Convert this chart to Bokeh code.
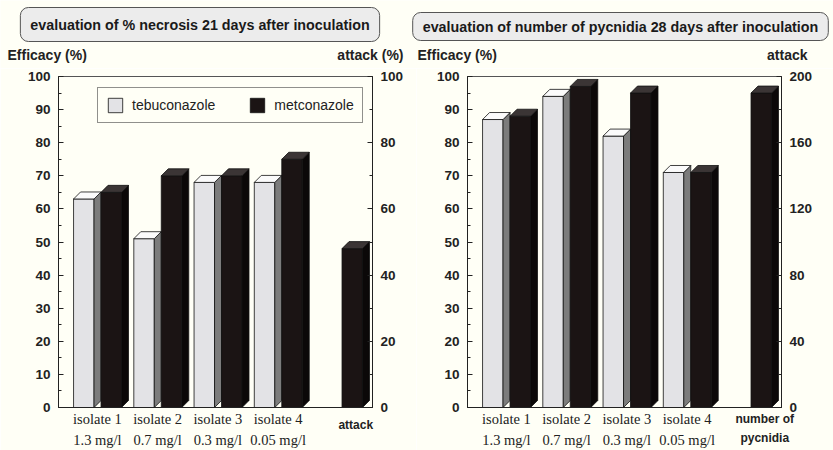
from bokeh.plotting import figure
from bokeh.models import (Range1d, LinearAxis, SingleIntervalTicker, FixedTicker,
                          Label, Legend, LegendItem)
from bokeh.layouts import row, column
from bokeh.embed import file_html
from bokeh.resources import INLINE

# ---------------- data ----------------
isolates = ["isolate 1", "isolate 2", "isolate 3", "isolate 4"]
doses = ["1.3 mg/l", "0.7 mg/l", "0.3 mg/l", "0.05 mg/l"]
series_names = ["tebuconazole", "metconazole"]

necrosis_tebuconazole = [63, 51, 68, 68]
necrosis_metconazole = [65, 70, 70, 75]
necrosis_attack = [48]          # attack (%), right axis 0-100

pycnidia_tebuconazole = [87, 94, 82, 71]
pycnidia_metconazole = [88, 97, 95, 71]
pycnidia_attack = [190]         # number of pycnidia, right axis 0-200

left_title = "evaluation of % necrosis 21 days after inoculation"
right_title = "evaluation of number of pycnidia 28 days after inoculation"

# ---------------- style / geometry ----------------
BG = "#fffff6"
SANS = "Liberation Sans"
SERIF = "Liberation Serif"
X_START, X_END = -0.646, 4.566
FRONT_W = 0.34          # front face width (x units)
DEPTH_X = 0.116         # 3-D depth in x units
DEPTH_PX = 7            # 3-D depth in pixels (vertical)
TEBU_OFF = -0.396
MET_OFF = 0.06
FRAME_W, FRAME_H = 314, 331
HEAD_H = 68

TEBU = dict(front="#e3e3e6", side="#7c7c7c", top="#fbfbfb")
MET = dict(front="#1b1414", side="#0b0808", top="#3b3535")


def bar_faces(x_left, value, dy):
    xr = x_left + FRONT_W
    front = ([x_left, xr, xr, x_left], [0, 0, value, value])
    side = ([xr, xr + DEPTH_X, xr + DEPTH_X, xr], [0, dy, value + dy, value])
    top = ([x_left, x_left + DEPTH_X, xr + DEPTH_X, xr], [value, value + dy, value + dy, value])
    return front, side, top


def draw_series(p, xs_left, values, colors, dy, y_range_name="default"):
    faces = [bar_faces(x, v, dy) for x, v in zip(xs_left, values)]
    rends = {}
    for k, name in enumerate(["front", "side", "top"]):
        rends[name] = p.patches(
            xs=[f[k][0] for f in faces], ys=[f[k][1] for f in faces],
            fill_color=colors[name], line_color="#111111", line_width=0.8,
            y_range_name=y_range_name)
    return rends


def make_panel(tebu, met, extra, extra_label, extra_standoff, right_max,
               right_interval, border_left, border_right, with_legend):
    p = figure(frame_width=FRAME_W, frame_height=FRAME_H,
               min_border_left=border_left, min_border_right=border_right,
               min_border_top=8, min_border_bottom=42,
               x_range=Range1d(X_START, X_END), y_range=Range1d(0, 100),
               output_backend="svg", toolbar_location=None,
               background_fill_color=BG, border_fill_color=BG)
    p.grid.visible = False
    p.outline_line_color = "#555555"
    p.extra_y_ranges = {"right": Range1d(0, right_max)}

    yl = p.yaxis[0]
    yl.ticker = SingleIntervalTicker(interval=10, num_minor_ticks=2)
    yr = LinearAxis(y_range_name="right",
                    ticker=SingleIntervalTicker(interval=right_interval, num_minor_ticks=2))
    p.add_layout(yr, "right")
    for ax in (yl, yr):
        ax.major_tick_in = 5
        ax.major_tick_out = 0
        ax.minor_tick_in = 3
        ax.minor_tick_out = 0
        ax.axis_line_color = "#222222"
        ax.major_tick_line_color = "#222222"
        ax.minor_tick_line_color = "#222222"
        ax.major_label_standoff = 8
        ax.major_label_text_font = SANS
        ax.major_label_text_font_style = "bold"
        ax.major_label_text_font_size = "13.5px"
        ax.major_label_text_color = "#222222"

    # bottom axis with the isolate labels
    xa = p.xaxis[0]
    xa.ticker = FixedTicker(ticks=list(range(len(isolates))))
    xa.major_label_overrides = {i: f"{iso}\n{d}" for i, (iso, d) in enumerate(zip(isolates, doses))}
    xa.major_label_text_font = SERIF
    xa.major_label_text_font_size = "14.5px"
    xa.major_label_text_line_height = 1.35
    xa.major_label_standoff = 3
    xa.axis_line_color = "#222222"

    # second bottom axis holding the label of the extra bar
    extra_x = len(isolates)
    extra_center = extra_x + MET_OFF + (FRONT_W + DEPTH_X) / 2
    xb = LinearAxis(ticker=FixedTicker(ticks=[extra_center]))
    xb.major_label_overrides = {extra_center: extra_label}
    xb.major_label_text_font = SANS
    xb.major_label_text_font_style = "bold"
    xb.major_label_text_font_size = "12px"
    xb.major_label_text_line_height = 1.4
    xb.major_label_standoff = extra_standoff
    xb.axis_line_color = None
    p.add_layout(xb, "below")
    for ax in (xa, xb):
        ax.major_tick_in = 0
        ax.major_tick_out = 0
        ax.minor_tick_in = 0
        ax.minor_tick_out = 0
        ax.major_label_text_color = "#222222"

    dy_left = DEPTH_PX * 100 / FRAME_H
    dy_right = DEPTH_PX * right_max / FRAME_H
    idx = list(range(len(isolates)))
    r_tebu = draw_series(p, [i + TEBU_OFF for i in idx], tebu, TEBU, dy_left)
    r_met = draw_series(p, [i + MET_OFF for i in idx], met, MET, dy_left)
    draw_series(p, [extra_x + MET_OFF], extra, MET, dy_right, y_range_name="right")

    if with_legend:
        legend = Legend(items=[LegendItem(label=series_names[0], renderers=[r_tebu["front"]]),
                               LegendItem(label=series_names[1], renderers=[r_met["front"]])],
                        location=(39, 284), orientation="horizontal",
                        glyph_width=18, glyph_height=18, label_standoff=8, spacing=33,
                        padding=8, margin=0, border_line_color="#222222",
                        background_fill_color=BG, background_fill_alpha=1,
                        label_text_font=SANS, label_text_font_size="14px",
                        label_text_color="#222222")
        p.add_layout(legend)
    return p


# ---------------- header strip (titles and axis titles) ----------------
head = figure(width=833, height=HEAD_H, min_border=0, x_axis_type=None, y_axis_type=None,
              x_range=Range1d(0, 833), y_range=Range1d(0, HEAD_H),
              output_backend="svg", toolbar_location=None,
              background_fill_color=BG, border_fill_color=BG, outline_line_color=None)
head.grid.visible = False


def title_box(text, cx, cy, pad):
    common = dict(x_units="screen", y_units="screen", text=text, text_align="center",
                  text_baseline="middle", text_font=SANS, text_font_style="bold",
                  text_font_size="14.3px", border_radius=8, padding=pad)
    head.add_layout(Label(x=cx + 3, y=cy - 3, text_alpha=0,
                          background_fill_color="#2a2a2a", border_line_color="#2a2a2a",
                          **common))
    head.add_layout(Label(x=cx, y=cy, text_color="#1a1a1a",
                          background_fill_color="#ececec", border_line_color="#555555",
                          **common))


def axis_title(text, x, align):
    head.add_layout(Label(x=x, y=14, x_units="screen", y_units="screen", text=text,
                          text_align=align, text_baseline="middle", text_font=SANS,
                          text_font_style="bold", text_font_size="14px",
                          text_color="#222222"))


title_box(left_title, 199.5, 44, (10, 9))
title_box(right_title, 620, 42, (10, 6))
axis_title("Efficacy (%)", 7, "left")
axis_title("attack (%)", 403, "right")
axis_title("Efficacy (%)", 417, "left")
axis_title("attack", 807, "right")

p1 = make_panel(necrosis_tebuconazole, necrosis_metconazole, necrosis_attack,
                "attack", -34, 100, 20, 58, 44, True)
p2 = make_panel(pycnidia_tebuconazole, pycnidia_metconazole, pycnidia_attack,
                "number of\npycnidia", -40, 200, 40, 51, 52, False)

layout = column(head, row(p1, p2))
open("out.html", "w").write(file_html(layout, INLINE))
